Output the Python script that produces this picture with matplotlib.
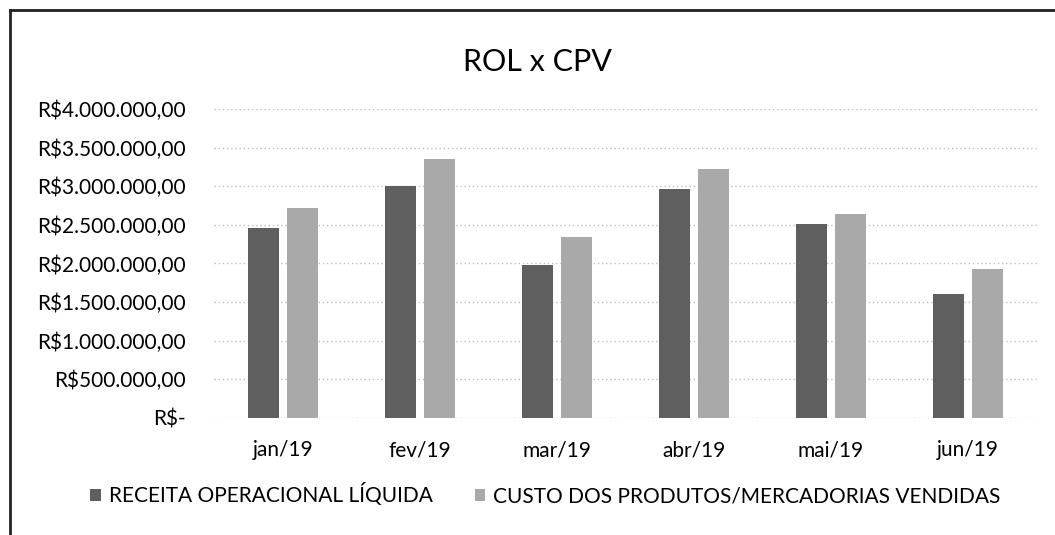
import matplotlib.pyplot as plt
from matplotlib.lines import Line2D
from matplotlib.ticker import FuncFormatter
import numpy as np

# data
meses = ['jan/19', 'fev/19', 'mar/19', 'abr/19', 'mai/19', 'jun/19']
rol = [2456000, 3007000, 1980000, 2964000, 2507000, 1609000]
cpv = [2714000, 3353000, 2339000, 3219000, 2645000, 1933000]
nomes = ['RECEITA OPERACIONAL LÍQUIDA', 'CUSTO DOS PRODUTOS/MERCADORIAS VENDIDAS']


def brl(v, pos):
    if v == 0:
        return 'R$-'
    s = f'{v:,.2f}'.replace(',', '#').replace('.', ',').replace('#', '.')
    return 'R$' + s


def main():
    plt.rcParams['font.family'] = ['Lato', 'DejaVu Sans']
    fig = plt.figure(figsize=(10.55, 5.35), dpi=100)
    ax = fig.add_axes([0.2033, 0.2187, 0.7792, 0.5776])

    x = np.arange(len(meses))
    w = 0.226
    ax.bar(x - 0.141, rol, w, color='#5f5f5f', label=nomes[0], zorder=2)
    ax.bar(x + 0.141, cpv, w, color='#a9a9a9', label=nomes[1], zorder=2)

    ax.set_xlim(-0.5, len(meses) - 0.5)
    ax.set_ylim(0, 4000000)
    ax.set_yticks(np.arange(0, 4000001, 500000))
    ax.yaxis.set_major_formatter(FuncFormatter(brl))
    ax.set_xticks(x)
    ax.set_xticklabels(meses)
    ax.tick_params(axis='both', length=0, labelsize=15, colors='#000000')
    ax.tick_params(axis='y', pad=21)
    ax.tick_params(axis='x', pad=16)
    ax.grid(axis='y', color='#bdbdbd', linestyle=(0, (1, 2)), linewidth=1, zorder=0)
    for s in ax.spines.values():
        s.set_visible(False)

    fig.text(0.509, 0.885, 'ROL x CPV', ha='center', va='center', fontsize=22, color='#000000')

    fig.legend(loc='center', bbox_to_anchor=(0.517, 0.075), ncol=2, frameon=False,
               fontsize=15, handlelength=0.5, handleheight=0.5, handletextpad=0.4,
               columnspacing=2.0)

    # scanned border: top and left only
    fig.add_artist(Line2D([0.0095, 1.0], [0.981, 0.981], color='#222222', linewidth=2))
    fig.add_artist(Line2D([0.0095, 0.0095], [0.0, 0.981], color='#222222', linewidth=2))

    fig.savefig('out.png', dpi=100)


if __name__ == '__main__':
    main()
